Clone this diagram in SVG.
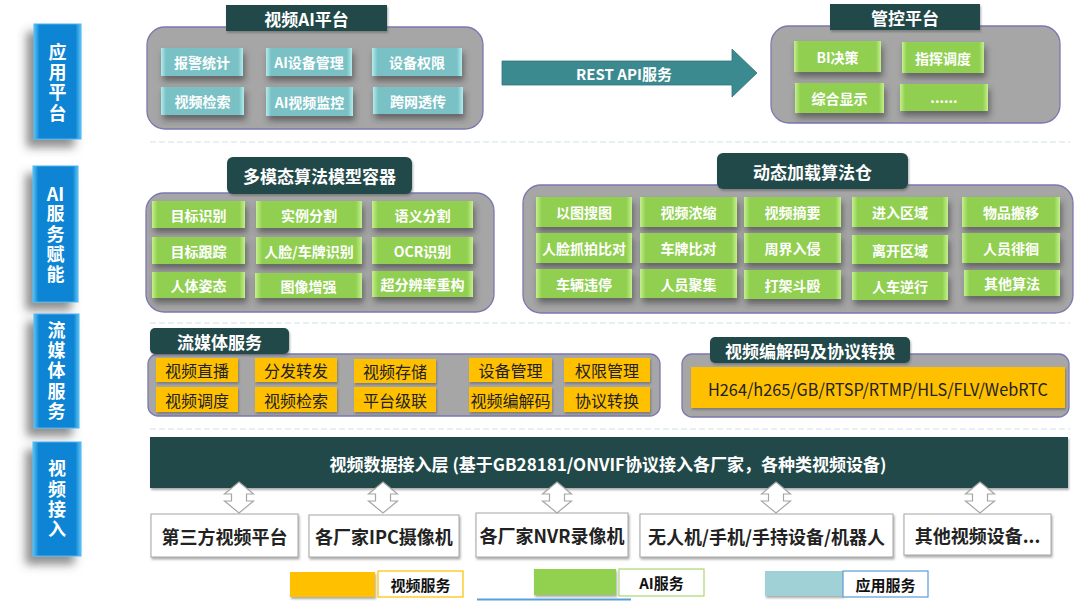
<svg xmlns="http://www.w3.org/2000/svg" width="1080" height="606" viewBox="0 0 1080 606">
<style>
text{font-family:"Noto Sans CJK SC","Noto Sans",sans-serif;text-anchor:middle;dominant-baseline:central}
.lbl{fill:url(#gBlue);stroke:#4cb6f0;stroke-width:1}
.lblt{fill:#fff;font-size:18px;font-weight:bold}
.vt{writing-mode:vertical-rl;text-orientation:upright;text-anchor:start;letter-spacing:2.3px}
.hdr{fill:#21494a}
.hdrt{fill:#fff;font-size:17px;font-weight:bold}
.cont{fill:#a6a6a6;stroke:#7b78b0;stroke-width:1.3}
.tb{fill:url(#gTeal)}
.gb{fill:url(#gGreen)}
.yb{fill:#ffc000}
.bt{fill:#fff;font-size:14px;font-weight:bold}
.yt{fill:#222;font-size:16px}
.dev{fill:#fff;stroke:#a6a6a6;stroke-width:1}
.devt{fill:#222;font-size:18px;font-weight:bold}
.sep{stroke:#cfe2e8;stroke-width:1.2;stroke-dasharray:6 3;fill:none}
.lgt{fill:#111;font-size:15px;font-weight:bold}
</style>
<defs>
<linearGradient id="gBlue" x1="0" y1="0" x2="1" y2="0">
<stop offset="0" stop-color="#5cc2f4"/><stop offset="0.12" stop-color="#0a84d4"/><stop offset="0.88" stop-color="#0a84d4"/><stop offset="1" stop-color="#5cc2f4"/>
</linearGradient>
<linearGradient id="gTeal" x1="0" y1="0" x2="1" y2="0">
<stop offset="0" stop-color="#b2ecee"/><stop offset="0.06" stop-color="#79c1c5"/><stop offset="0.94" stop-color="#79c1c5"/><stop offset="1" stop-color="#b2ecee"/>
</linearGradient>
<linearGradient id="gGreen" x1="0" y1="0" x2="1" y2="0">
<stop offset="0" stop-color="#c4f08c"/><stop offset="0.06" stop-color="#90cf4f"/><stop offset="0.94" stop-color="#90cf4f"/><stop offset="1" stop-color="#c4f08c"/>
</linearGradient>
<filter id="shB" x="-20%" y="-30%" width="140%" height="180%">
<feDropShadow dx="2" dy="5" stdDeviation="3" flood-color="#333" flood-opacity="0.55"/>
</filter>
<filter id="shL" x="-60%" y="-20%" width="200%" height="140%">
<feDropShadow dx="-7" dy="8" stdDeviation="5" flood-color="#444" flood-opacity="0.6"/>
</filter>
<filter id="shS" x="-10%" y="-20%" width="120%" height="150%">
<feDropShadow dx="1" dy="2" stdDeviation="1.2" flood-color="#555" flood-opacity="0.5"/>
</filter>
<path id="dbl" d="M0,-15.5 L14.5,-3.5 L7.5,-3.5 L7.5,3.5 L14.5,3.5 L0,15.5 L-14.5,3.5 L-7.5,3.5 L-7.5,-3.5 L-14.5,-3.5 Z" fill="#fff" stroke="#a6a6a6" stroke-width="1.2"/>
</defs>
<rect width="1080" height="606" fill="#fff"/>

<g id="separators">
<line class="sep" x1="150" y1="142" x2="1070" y2="142"/>
<line class="sep" x1="150" y1="323" x2="1070" y2="323"/>
<line class="sep" x1="150" y1="429" x2="1070" y2="429"/>
</g>

<g id="layer-labels">
<g id="lbl-app"><rect class="lbl" x="34" y="24" width="47" height="115" filter="url(#shL)"/>
<text class="lblt vt" x="57.5" y="43">应用平台</text></g>
<g id="lbl-ai"><rect class="lbl" x="33" y="166" width="45" height="136" filter="url(#shL)"/>
<text class="lblt" x="55.5" y="193">AI</text>
<text class="lblt vt" x="55.5" y="204.5">服务赋能</text></g>
<g id="lbl-stream"><rect class="lbl" x="34" y="314" width="45" height="114" filter="url(#shL)"/>
<text class="lblt vt" x="56.5" y="321">流媒体服务</text></g>
<g id="lbl-access"><rect class="lbl" x="33" y="442" width="48" height="114" filter="url(#shL)"/>
<text class="lblt vt" x="57" y="459.5">视频接入</text></g>
</g>

<g id="video-ai-platform">
<rect class="cont" x="147" y="27" width="336" height="102" rx="18"/>
<rect class="hdr" x="226" y="5" width="161" height="26" filter="url(#shS)"/>
<text class="hdrt" x="306.5" y="18">视频AI平台</text>
<g filter="url(#shB)">
<rect class="tb" x="161" y="48" width="82" height="28"/>
<rect class="tb" x="266" y="48" width="86" height="28"/>
<rect class="tb" x="372" y="48" width="90" height="28"/>
<rect class="tb" x="161" y="87" width="83" height="28"/>
<rect class="tb" x="266" y="87" width="87" height="29"/>
<rect class="tb" x="373" y="87" width="90" height="27"/>
</g>
<text class="bt" x="202" y="62">报警统计</text>
<text class="bt" x="309" y="62">AI设备管理</text>
<text class="bt" x="417" y="62">设备权限</text>
<text class="bt" x="202.5" y="101">视频检索</text>
<text class="bt" x="309.5" y="101.5">AI视频监控</text>
<text class="bt" x="418" y="100.5">跨网透传</text>
</g>

<g id="control-platform">
<rect class="cont" x="771" y="26" width="289" height="97" rx="18"/>
<rect class="hdr" x="830" y="4" width="150" height="26" filter="url(#shS)"/>
<text class="hdrt" x="905" y="17">管控平台</text>
<g filter="url(#shB)">
<rect class="gb" x="794" y="41" width="87" height="31"/>
<rect class="gb" x="902" y="42" width="82" height="31"/>
<rect class="gb" x="795" y="83" width="89" height="30"/>
<rect class="gb" x="900" y="84" width="88" height="27"/>
</g>
<text class="bt" x="837.5" y="56.5">BI决策</text>
<text class="bt" x="943" y="57.5">指挥调度</text>
<text class="bt" x="839.5" y="98">综合显示</text>
<text class="bt" x="944" y="97">......</text>
</g>

<g id="multimodal-container">
<rect class="cont" x="146" y="193" width="348" height="119" rx="18"/>
<rect class="hdr" x="227" y="157" width="185" height="37" rx="6" filter="url(#shS)"/>
<text class="hdrt" x="319.5" y="175.5">多模态算法模型容器</text>
<g filter="url(#shB)">
<rect class="gb" x="152" y="201" width="93" height="27"/>
<rect class="gb" x="256" y="201" width="106" height="27"/>
<rect class="gb" x="372" y="201" width="101" height="27"/>
<rect class="gb" x="152" y="237" width="93" height="27"/>
<rect class="gb" x="256" y="237" width="106" height="27"/>
<rect class="gb" x="372" y="237" width="101" height="27"/>
<rect class="gb" x="152" y="272" width="93" height="26"/>
<rect class="gb" x="255" y="273" width="107" height="25"/>
<rect class="gb" x="372" y="271" width="101" height="26"/>
</g>
<text class="bt" x="198.5" y="214.5">目标识别</text>
<text class="bt" x="309" y="214.5">实例分割</text>
<text class="bt" x="422.5" y="214.5">语义分割</text>
<text class="bt" x="198.5" y="250.5">目标跟踪</text>
<text class="bt" x="309" y="250.5">人脸/车牌识别</text>
<text class="bt" x="422.5" y="250.5">OCR识别</text>
<text class="bt" x="198.5" y="285">人体姿态</text>
<text class="bt" x="308.5" y="285.5">图像增强</text>
<text class="bt" x="422.5" y="284">超分辨率重构</text>
</g>

<g id="algorithm-warehouse">
<rect class="cont" x="523" y="185" width="550" height="128" rx="18"/>
<rect class="hdr" x="717" y="153" width="191" height="36" rx="6" filter="url(#shS)"/>
<text class="hdrt" x="812.5" y="171">动态加载算法仓</text>
<g filter="url(#shB)">
<rect class="gb" x="536" y="197" width="96" height="30"/>
<rect class="gb" x="640" y="197" width="97" height="30"/>
<rect class="gb" x="744" y="197" width="97" height="30"/>
<rect class="gb" x="852" y="197" width="96" height="30"/>
<rect class="gb" x="962" y="197" width="98" height="30"/>
<rect class="gb" x="536" y="233" width="96" height="30"/>
<rect class="gb" x="640" y="233" width="97" height="30"/>
<rect class="gb" x="744" y="233" width="97" height="30"/>
<rect class="gb" x="852" y="235" width="96" height="29"/>
<rect class="gb" x="962" y="233" width="98" height="30"/>
<rect class="gb" x="536" y="269" width="96" height="29"/>
<rect class="gb" x="640" y="269" width="97" height="29"/>
<rect class="gb" x="744" y="270" width="97" height="29"/>
<rect class="gb" x="852" y="272" width="96" height="28"/>
<rect class="gb" x="964" y="270" width="96" height="26"/>
</g>
<text class="bt" x="584" y="212">以图搜图</text>
<text class="bt" x="688.5" y="212">视频浓缩</text>
<text class="bt" x="792.5" y="212">视频摘要</text>
<text class="bt" x="900" y="212">进入区域</text>
<text class="bt" x="1011" y="212">物品搬移</text>
<text class="bt" x="584" y="248">人脸抓拍比对</text>
<text class="bt" x="688.5" y="248">车牌比对</text>
<text class="bt" x="792.5" y="248">周界入侵</text>
<text class="bt" x="900" y="249.5">离开区域</text>
<text class="bt" x="1011" y="248">人员徘徊</text>
<text class="bt" x="584" y="283.5">车辆违停</text>
<text class="bt" x="688.5" y="283.5">人员聚集</text>
<text class="bt" x="792.5" y="284.5">打架斗殴</text>
<text class="bt" x="900" y="286">人车逆行</text>
<text class="bt" x="1012" y="283">其他算法</text>
</g>

<g id="streaming-service">
<rect class="cont" x="148" y="354" width="512" height="62" rx="10"/>
<rect class="hdr" x="150" y="328" width="139" height="26" rx="5" filter="url(#shS)"/>
<text class="hdrt" x="219.5" y="341">流媒体服务</text>
<g filter="url(#shS)">
<rect class="yb" x="156" y="358" width="82" height="24"/>
<rect class="yb" x="255" y="358" width="82" height="24"/>
<rect class="yb" x="354" y="359" width="82" height="24"/>
<rect class="yb" x="469" y="358" width="83" height="24"/>
<rect class="yb" x="564" y="358" width="86" height="24"/>
<rect class="yb" x="156" y="387" width="82" height="25"/>
<rect class="yb" x="255" y="387" width="82" height="25"/>
<rect class="yb" x="354" y="387" width="82" height="25"/>
<rect class="yb" x="469" y="387" width="83" height="25"/>
<rect class="yb" x="564" y="387" width="86" height="25"/>
</g>
<text class="yt" x="197" y="370">视频直播</text>
<text class="yt" x="296" y="370">分发转发</text>
<text class="yt" x="395" y="371">视频存储</text>
<text class="yt" x="510.5" y="370">设备管理</text>
<text class="yt" x="607" y="370">权限管理</text>
<text class="yt" x="197" y="399.5">视频调度</text>
<text class="yt" x="296" y="399.5">视频检索</text>
<text class="yt" x="395" y="399.5">平台级联</text>
<text class="yt" x="510.5" y="399.5">视频编解码</text>
<text class="yt" x="607" y="399.5">协议转换</text>
</g>

<g id="codec-protocol">
<rect class="cont" x="682" y="354" width="387" height="63" rx="10"/>
<rect class="hdr" x="710" y="337" width="200" height="26" rx="5" filter="url(#shS)"/>
<text class="hdrt" x="810" y="350">视频编解码及协议转换</text>
<rect class="yb" x="691" y="367" width="374" height="41" filter="url(#shS)"/>
<text class="yt" x="878" y="388" style="font-size:17px" textLength="340" lengthAdjust="spacingAndGlyphs">H264/h265/GB/RTSP/RTMP/HLS/FLV/WebRTC</text>
</g>

<g id="access-layer">
<rect class="hdr" x="150" y="437" width="918" height="51" filter="url(#shS)"/>
<text x="608" y="463" style="fill:#fff;font-size:17px;font-weight:bold">视频数据接入层 (基于GB28181/ONVIF协议接入各厂家，各种类视频设备)</text>
</g>

<g id="dev-third"><rect class="dev" x="151" y="514" width="147" height="43" filter="url(#shS)"/><text class="devt" x="224.5" y="535.5">第三方视频平台</text></g>
<g id="dev-ipc"><rect class="dev" x="309" y="515" width="150" height="42" filter="url(#shS)"/><text class="devt" x="384" y="536">各厂家IPC摄像机</text></g>
<g id="dev-nvr"><rect class="dev" x="476" y="513" width="152" height="44" filter="url(#shS)"/><text class="devt" x="552" y="535">各厂家NVR录像机</text></g>
<g id="dev-mobile"><rect class="dev" x="640" y="514" width="253" height="43" filter="url(#shS)"/><text class="devt" x="766.5" y="535.5">无人机/手机/手持设备/机器人</text></g>
<g id="dev-other"><rect class="dev" x="904" y="514" width="147" height="41" filter="url(#shS)"/><text class="devt" x="977.5" y="534.5">其他视频设备...</text></g>

<g id="connectors">
<polygon points="502,61 732,61 732,49 757,73 732,97 732,85 502,85" fill="#3b8a8f" stroke="#2f7378" stroke-width="0.8"/>
<text x="624" y="73" style="fill:#fff;font-size:15px;font-weight:bold">REST API服务</text>
<use href="#dbl" x="239" y="497.5"/>
<use href="#dbl" x="383" y="497.5"/>
<use href="#dbl" x="557" y="497.5"/>
<use href="#dbl" x="776" y="497.5"/>
<use href="#dbl" x="980" y="497.5"/>
</g>

<g id="legend">
<rect x="290" y="572" width="85" height="25" fill="#ffc000" filter="url(#shS)"/>
<rect x="378" y="571" width="85" height="26" fill="#fff" stroke="#ffc000" stroke-width="1.2"/>
<text class="lgt" x="420.5" y="584">视频服务</text>
<rect x="534" y="569" width="82" height="26" fill="#92d050" filter="url(#shS)"/>
<rect x="619" y="569" width="85" height="27" fill="#fff" stroke="#a9d873" stroke-width="1.2"/>
<text class="lgt" x="661.5" y="582.5">AI服务</text>
<line x1="477" y1="599.5" x2="631" y2="599.5" stroke="#5aa0d8" stroke-width="2"/>
<rect x="765" y="571" width="78" height="25" fill="#9fd1d6" filter="url(#shS)"/>
<rect x="843" y="571" width="85" height="26" fill="#fff" stroke="#5b9bd5" stroke-width="1.2"/>
<text class="lgt" x="885.5" y="584">应用服务</text>
</g>
</svg>
